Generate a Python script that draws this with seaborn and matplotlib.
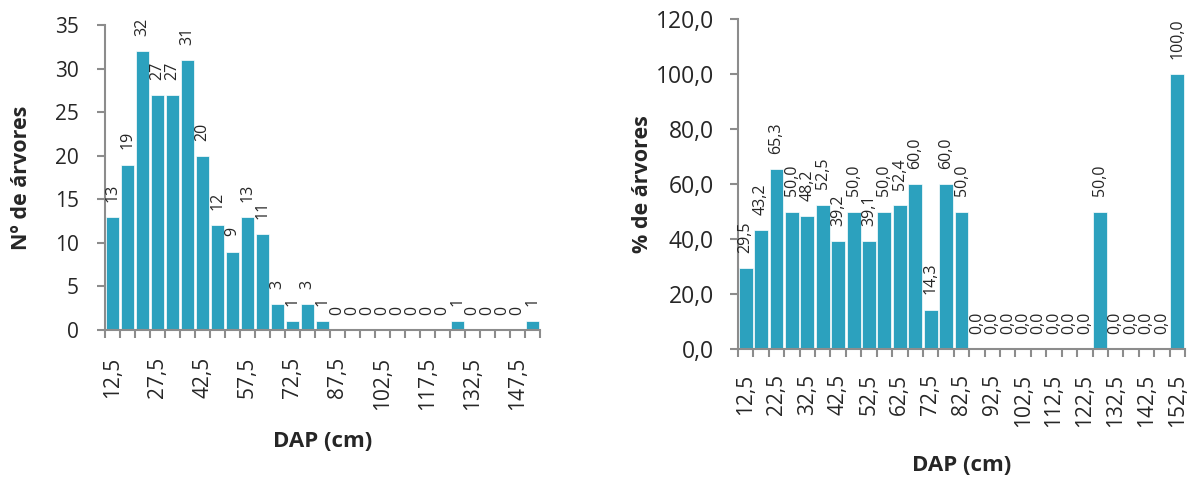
import matplotlib
matplotlib.use("Agg")
import matplotlib.pyplot as plt
import seaborn as sns
import pandas as pd
from matplotlib.ticker import FuncFormatter, FixedLocator

dap = ["12,5", "17,5", "22,5", "27,5", "32,5", "37,5", "42,5", "47,5", "52,5", "57,5",
       "62,5", "67,5", "72,5", "77,5", "82,5", "87,5", "92,5", "97,5", "102,5", "107,5",
       "112,5", "117,5", "122,5", "127,5", "132,5", "137,5", "142,5", "147,5", "152,5"]
n_arvores = [13, 19, 32, 27, 27, 31, 20, 12, 9, 13, 11, 3, 1, 3, 1,
             0, 0, 0, 0, 0, 0, 0, 0, 1, 0, 0, 0, 0, 1]
pct_arvores = [29.5, 43.2, 65.3, 50.0, 48.2, 52.5, 39.2, 50.0, 39.1, 50.0, 52.4, 60.0, 14.3, 60.0, 50.0,
               0.0, 0.0, 0.0, 0.0, 0.0, 0.0, 0.0, 0.0, 50.0, 0.0, 0.0, 0.0, 0.0, 100.0]

df = pd.DataFrame({"DAP": dap, "n": n_arvores, "pct": pct_arvores})

sns.set_theme(style="white")
plt.rcParams['font.family'] = ['Open Sans', 'DejaVu Sans']

cor = "#2CA1BE"
cinza = "#8C8C8C"

fig = plt.figure(figsize=(11.88, 4.8), dpi=100)
ax1 = fig.add_axes([0.0884, 0.3125, 0.3661, 0.635])
ax2 = fig.add_axes([0.6212, 0.2729, 0.3763, 0.6875])


def estilo(ax, passo, ypad, ysize, xpad, labpad):
    for s in ["top", "right"]:
        ax.spines[s].set_visible(False)
    for s in ["left", "bottom"]:
        ax.spines[s].set_color(cinza)
        ax.spines[s].set_linewidth(1.5)
    n = len(dap)
    ax.set_xlim(-0.5, n - 0.5)
    ax.xaxis.set_major_locator(FixedLocator(range(0, n, passo)))
    ax.set_xticklabels(dap[::passo], rotation=90, fontsize=15)
    ax.xaxis.set_minor_locator(FixedLocator([i - 0.5 for i in range(n + 1)]))
    ax.tick_params(axis="x", which="major", length=0, pad=xpad)
    ax.tick_params(axis="x", which="minor", length=5.5, width=1.5, color=cinza, direction="out", bottom=True)
    ax.tick_params(axis="y", length=5.5, width=1.5, color=cinza, direction="out", left=True,
                   labelsize=ysize, pad=ypad)
    ax.set_xlabel("DAP (cm)", fontsize=16, fontweight="bold", labelpad=labpad)


sns.barplot(data=df, x="DAP", y="n", color=cor, saturation=1, width=0.9,
            edgecolor="white", linewidth=0.5, ax=ax1)
ax1.set_ylim(0, 35)
ax1.set_yticks(range(0, 36, 5))
estilo(ax1, 3, 13.5, 15, 19, 15)
ax1.set_ylabel("Nº de árvores", fontsize=15.5, fontweight="bold", labelpad=16)
ax1.bar_label(ax1.containers[0], labels=[str(v) for v in n_arvores],
              rotation=90, fontsize=11.5, padding=11)

sns.barplot(data=df, x="DAP", y="pct", color=cor, saturation=1, width=0.9,
            edgecolor="white", linewidth=0.5, ax=ax2)
ax2.set_ylim(0, 120)
ax2.set_yticks(range(0, 121, 20))
ax2.yaxis.set_major_formatter(FuncFormatter(lambda v, p: f"{v:.1f}".replace(".", ",")))
estilo(ax2, 2, 12, 16.5, 18, 20)
ax2.set_ylabel("% de árvores", fontsize=15.5, fontweight="bold", labelpad=2)
ax2.bar_label(ax2.containers[0], labels=[f"{v:.1f}".replace(".", ",") for v in pct_arvores],
              rotation=90, fontsize=11.5, padding=11)

fig.savefig("out.png", dpi=100)
